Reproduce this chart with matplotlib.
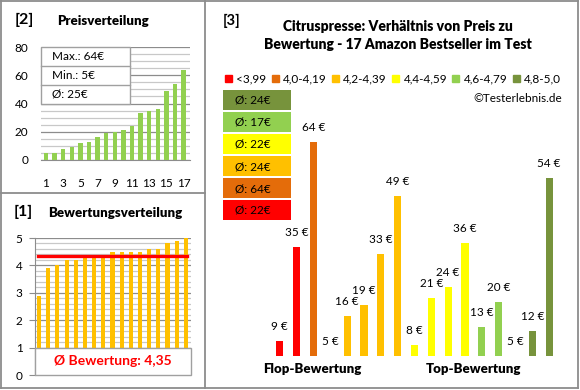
import matplotlib
matplotlib.use('Agg')
import matplotlib.pyplot as plt
import numpy as np
from matplotlib.patches import Rectangle
from matplotlib.lines import Line2D
from matplotlib.ticker import MultipleLocator

plt.rcParams['font.family'] = ['Lato', 'DejaVu Sans']

# data
prices_sorted = [5, 5, 8, 9, 12, 13, 16, 19, 20, 21, 24, 33, 35, 36, 49, 54, 64]
ratings_sorted = [2.9, 3.9, 4.0, 4.2, 4.2, 4.3, 4.3, 4.3, 4.5, 4.5, 4.5, 4.5,
                  4.6, 4.6, 4.8, 4.9, 5.0]
cat_labels = ['<3,99', '4,0-4,19', '4,2-4,39', '4,4-4,59', '4,6-4,79', '4,8-5,0']
cat_colors = ['#FF0000', '#E46C0A', '#FFC000', '#FFFF00', '#92D050', '#77933C']
p3_prices = [9, 35, 64, 5, 16, 19, 33, 49, 8, 21, 24, 36, 13, 20, 5, 12, 54]
p3_groups = [0, 0, 1, 2, 2, 2, 2, 2, 3, 3, 3, 3, 4, 4, 5, 5, 5]

W, H = 580, 390
fig = plt.figure(figsize=(W / 100, H / 100), dpi=100)


def box(l, t, r, b):
    return [l / W, 1 - b / H, (r - l) / W, (b - t) / H]


def fx(x):
    return x / W


def fy(y):
    return 1 - y / H


GRID_MAJ = '#8C8C8C'
GRID_MIN = '#C8C8C8'
FRAME = '#8C8C8C'

# ---- panel [2] Preisverteilung
ax2 = fig.add_axes(box(41, 47, 190, 160))
n = len(prices_sorted)
ax2.bar(np.arange(1, n + 1), prices_sorted, width=0.5, color='#92D050', zorder=3)
ax2.set_ylim(0, 80)
ax2.set_xlim(0.42, 17.75)
ax2.yaxis.set_major_locator(MultipleLocator(20))
ax2.yaxis.set_minor_locator(MultipleLocator(5))
ax2.set_xticks(np.arange(1, n + 1, 2))
ax2.grid(which='major', axis='y', color=GRID_MAJ, lw=0.9, zorder=0)
ax2.grid(which='minor', axis='y', color=GRID_MIN, lw=0.9, zorder=0)
for s in ['top', 'right', 'left']:
    ax2.spines[s].set_visible(False)
ax2.spines['bottom'].set_color(GRID_MAJ)
ax2.tick_params(axis='x', length=0, pad=13, labelsize=8.5)
ax2.tick_params(axis='y', which='both', length=0, pad=9, labelsize=8.5)

# stats box
stats = ['Max.: %d€' % max(prices_sorted), 'Min.: %d€' % min(prices_sorted),
         'Ø: %d€' % int(np.mean(prices_sorted) + 0.5)]
fig.add_artist(Rectangle((fx(41), fy(104)), fx(130) - fx(41), fy(47) - fy(104),
                         transform=fig.transFigure, facecolor='white',
                         edgecolor='#A0A0A0', lw=1, zorder=5))
for i, s in enumerate(stats):
    if i > 0:
        yy = fy(47 + 19 * i)
        fig.add_artist(Line2D([fx(41), fx(130)], [yy, yy], color='#A0A0A0',
                              lw=1, transform=fig.transFigure, zorder=6))
    fig.text(fx(52), fy(56.5 + 19 * i), s, fontsize=8.5, va='center', zorder=7)

fig.text(fx(15), fy(20), '[2]', fontsize=11.5, fontweight='bold', va='center')
fig.text(fx(57), fy(21), 'Preisverteilung', fontsize=9.5, fontweight='heavy',
         va='center')

# ---- panel [1] Bewertungsverteilung
ax1 = fig.add_axes(box(35, 238, 191, 375))
ax1.bar(np.arange(1, n + 1), ratings_sorted, width=0.45, color='#FFC000', zorder=3)
ax1.set_ylim(0, 5)
ax1.set_xlim(0.56, 17.56)
ax1.yaxis.set_major_locator(MultipleLocator(1))
ax1.yaxis.set_minor_locator(MultipleLocator(0.2))
ax1.set_xticks([])
ax1.grid(which='major', axis='y', color=GRID_MAJ, lw=0.9, zorder=0)
ax1.grid(which='minor', axis='y', color=GRID_MIN, lw=0.9, zorder=0)
for s in ['top', 'right', 'bottom']:
    ax1.spines[s].set_visible(False)
ax1.spines['left'].set_color(GRID_MAJ)
ax1.tick_params(axis='y', which='major', length=4, color=GRID_MAJ, pad=5,
                labelsize=8.5)
ax1.tick_params(axis='y', which='minor', length=0)
mean_r = np.mean(ratings_sorted)
ax1.axhline(mean_r, xmin=0.02, xmax=0.975, color='#FF0000', lw=2.4, zorder=4)
ax1.add_patch(Rectangle((0.56, 0), 17.0, 1, facecolor='white',
                        edgecolor='#A0A0A0', lw=1, zorder=5, clip_on=False))
ax1.text(9.0, 0.5, 'Ø Bewertung: ' + f'{mean_r:.2f}'.replace('.', ','),
         color='#FF0000', fontsize=10, fontweight='bold', ha='center',
         va='center', zorder=6)

fig.text(fx(14), fy(212), '[1]', fontsize=11.5, fontweight='bold', va='center')
fig.text(fx(48), fy(213), 'Bewertungsverteilung', fontsize=9.5,
         fontweight='heavy', va='center')

# ---- panel [3]
ax3 = fig.add_axes(box(263, 120, 566, 356))
xs = np.arange(len(p3_prices))
ax3.bar(xs, p3_prices, width=0.42, color=[cat_colors[g] for g in p3_groups])
ax3.set_xlim(-1, 17)
ax3.set_ylim(5, 70)
ax3.axis('off')
for x, p in zip(xs, p3_prices):
    ax3.annotate('%d €' % p, (x, p), xytext=(0, 6.5), textcoords='offset points',
                 ha='center', va='bottom', fontsize=8.5)

fig.text(fx(223), fy(21), '[3]', fontsize=10.5, fontweight='bold', va='center')
fig.text(fx(398), fy(35.5), 'Citruspresse: Verhältnis von Preis zu\n'
         'Bewertung - 17 Amazon Bestseller im Test', fontsize=10,
         fontweight='heavy', ha='center', va='center', linespacing=1.45)

handles = [Rectangle((0, 0), 1, 1, color=c) for c in cat_colors]
fig.legend(handles, cat_labels, ncol=6, loc='center',
           bbox_to_anchor=(fx(393), fy(79)), frameon=False, fontsize=8.5,
           handlelength=0.6, handleheight=0.6, handletextpad=0.35,
           columnspacing=0.45, borderpad=0)
fig.text(fx(562), fy(98), '©Testerlebnis.de', fontsize=8.5, ha='right',
         va='center')

# group average boxes (top: best rating)
for i, g in enumerate(reversed(range(len(cat_labels)))):
    vals = [p for p, gg in zip(p3_prices, p3_groups) if gg == g]
    avg = int(np.mean(vals) + 0.5)
    top = 90 + 22 * i
    fig.add_artist(Rectangle((fx(223), fy(top + 20)), fx(291) - fx(223),
                             fy(top) - fy(top + 20), transform=fig.transFigure,
                             facecolor=cat_colors[g], edgecolor='none'))
    fig.text(fx(235), fy(top + 10.5), 'Ø: %d€' % avg, fontsize=8.5, va='center')

fig.text(fx(312), fy(369), 'Flop-Bewertung', fontsize=9.5, fontweight='heavy',
         ha='center', va='center')
fig.text(fx(474), fy(369), 'Top-Bewertung', fontsize=9.5, fontweight='heavy',
         ha='center', va='center')

# frames
for xy in [([1, 578], [1, 1]), ([1, 578], [388, 388]), ([1, 1], [1, 388]),
           ([578, 578], [1, 388]), ([205, 205], [1, 388]), ([1, 205], [193, 193])]:
    fig.add_artist(Line2D([fx(v) for v in xy[0]], [fy(v) for v in xy[1]],
                          color=FRAME, lw=1.3, transform=fig.transFigure))

fig.savefig('out.png', dpi=100)
